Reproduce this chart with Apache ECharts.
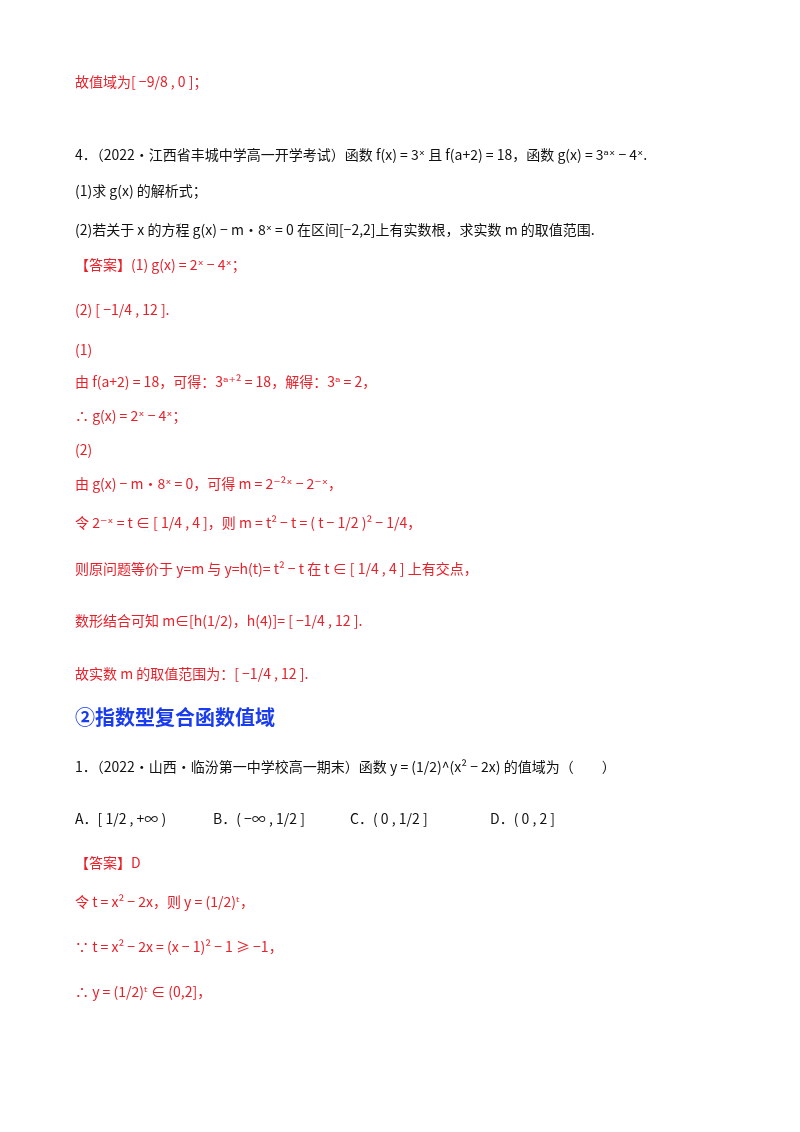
<!DOCTYPE html>
<html><head><meta charset="utf-8">
<script src="https://cdn.jsdelivr.net/npm/echarts@6/dist/echarts.min.js"></script>
<style>html,body{margin:0;padding:0;background:#fff}#c{width:800px;height:1132px}</style>
</head><body><div id="c"></div>
<script>
const lineTexts = [
 "故值域为[ −9/8 , 0 ]；",
 "4．（2022·江西省丰城中学高一开学考试）函数 f(x) = 3ˣ 且 f(a+2) = 18，函数 g(x) = 3ᵃˣ − 4ˣ.",
 "(1)求 g(x) 的解析式；",
 "(2)若关于 x 的方程 g(x) − m·8ˣ = 0 在区间[−2,2]上有实数根，求实数 m 的取值范围.",
 "【答案】(1) g(x) = 2ˣ − 4ˣ；",
 "(2) [ −1/4 , 12 ].",
 "(1)",
 "由 f(a+2) = 18，可得：3ᵃ⁺² = 18，解得：3ᵃ = 2，",
 "∴ g(x) = 2ˣ − 4ˣ；",
 "(2)",
 "由 g(x) − m·8ˣ = 0，可得 m = 2⁻²ˣ − 2⁻ˣ，",
 "令 2⁻ˣ = t ∈ [ 1/4 , 4 ]，则 m = t² − t = ( t − 1/2 )² − 1/4，",
 "则原问题等价于 y=m 与 y=h(t)= t² − t 在 t ∈ [ 1/4 , 4 ] 上有交点，",
 "数形结合可知 m∈[h(1/2)，h(4)]= [ −1/4 , 12 ].",
 "故实数 m 的取值范围为：[ −1/4 , 12 ].",
 "1．（2022·山西·临汾第一中学校高一期末）函数 y = (1/2)^(x² − 2x) 的值域为（　　）",
 "【答案】D",
 "令 t = x² − 2x，则 y = (1/2)ᵗ，",
 "∵ t = x² − 2x = (x − 1)² − 1 ≥ −1，",
 "∴ y = (1/2)ᵗ ∈ (0,2]，"
];
const lineY = [85,158,194,233,268,313,353,385,419,453,487,526,572,624,677,770,866,905,950,995];
const lineRed = [1,0,0,0,1,1,1,1,1,1,1,1,1,1,1,0,1,1,1,1];
const heading = "②指数型复合函数值域";
const headingY = 720;
const options = ["A．[ 1/2 , +∞ )","B．( −∞ , 1/2 ]","C．( 0 , 1/2 ]","D．( 0 , 2 ]"];
const optionX = [75,213,350,490];
const optionY = 822;
const RED = '#e8202a', FONT = '"Noto Sans CJK SC", "DejaVu Sans", sans-serif';
const els = [];
lineTexts.forEach((t,i)=>els.push({type:'text',left:75,top:lineY[i]-10,style:{text:t,fill:lineRed[i]?RED:'#111',font:'14px '+FONT}}));
els.push({type:'text',left:75,top:headingY-13,style:{text:heading,fill:'#1a3cf0',font:'bold 20px '+FONT}});
options.forEach((t,i)=>els.push({type:'text',left:optionX[i],top:optionY-10,style:{text:t,fill:'#111',font:'14px '+FONT}}));
const ch = echarts.init(document.getElementById('c'));
ch.setOption({backgroundColor:'#fff',graphic:{elements:els}});
</script></body></html>
